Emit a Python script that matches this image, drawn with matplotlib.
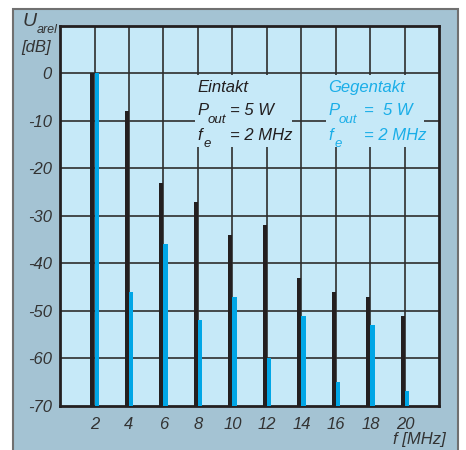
import matplotlib
matplotlib.use("Agg")
import matplotlib.pyplot as plt
from matplotlib.patches import Rectangle

plt.rcParams['font.family'] = ['Liberation Sans', 'DejaVu Sans']
plt.rcParams['font.style'] = 'italic'
plt.rcParams['axes.unicode_minus'] = False

# frequencies [MHz] and relative levels [dB]
freqs = [2, 4, 6, 8, 10, 12, 14, 16, 18, 20]
eintakt = [0, -8, -23, -27, -34, -32, -43, -46, -47, -51]
gegentakt = [0, -46, -36, -52, -47, -60, -51, -65, -53, -67]
yticks = [0, -10, -20, -30, -40, -50, -60, -70]

black = '#231f20'
cyan = '#00a6e6'
plot_bg = '#c6e9f8'
frame_bg = '#a4c3d3'
grid_col = '#2e2e2e'
txt_col = '#333333'

fig = plt.figure(figsize=(4.66, 4.5), dpi=100)
fig.patch.set_facecolor('white')

# outer panel
fig.patches.append(Rectangle((12.5 / 466, -0.05), (458 - 12.5) / 466, 1.05 - 8.7 / 450,
                             transform=fig.transFigure, facecolor=frame_bg,
                             edgecolor='#707070', linewidth=1.5, zorder=0))

ax = fig.add_axes([60 / 466, 1 - 405.7 / 450, 379.5 / 466, (405.7 - 26) / 450])
ax.set_zorder(2)
ax.set_facecolor(plot_bg)
ax.set_xlim(0, 22)
ax.set_ylim(-70, 10)

# grid
for f in freqs:
    ax.axvline(f, color=grid_col, linewidth=1.2, zorder=1)
for y in yticks[:-1]:
    ax.axhline(y, color=grid_col, linewidth=1.2, zorder=1)

# bars: black just left of the gridline, cyan just right
w = 0.24
ax.bar([f - w for f in freqs], [v + 70 for v in eintakt], bottom=-70, width=w,
       align='edge', color=black, zorder=3, linewidth=0)
ax.bar(freqs, [v + 70 for v in gegentakt], bottom=-70, width=w, align='edge',
       color=cyan, zorder=3, linewidth=0)

# text panels hiding the grid
ax.add_patch(Rectangle((7.83, -15.5), 5.6, 15.2, facecolor=plot_bg, edgecolor='none', zorder=2))
ax.add_patch(Rectangle((15.4, -15.5), 5.7, 15.2, facecolor=plot_bg, edgecolor='none', zorder=2))

fs = 12
sub = 9.5
def block(x0, xeq, title, pout, fe, col):
    ax.text(x0, -3.95, title, fontsize=fs, color=col, zorder=4)
    ax.text(x0, -8.8, 'P', fontsize=fs, color=col, zorder=4)
    ax.text(x0 + 0.6, -10.5, 'out', fontsize=sub, color=col, zorder=4)
    ax.text(xeq, -8.8, pout, fontsize=fs, color=col, zorder=4)
    ax.text(x0, -14.0, 'f', fontsize=fs, color=col, zorder=4)
    ax.text(x0 + 0.35, -15.4, 'e', fontsize=sub, color=col, zorder=4)
    ax.text(xeq, -14.0, fe, fontsize=fs, color=col, zorder=4)

block(7.95, 9.85, 'Eintakt', '= 5 W', '= 2 MHz', black)
block(15.55, 17.6, 'Gegentakt', '=  5 W', '= 2 MHz', '#1aaee8')

ax.set_xticks(freqs)
ax.set_yticks(yticks)
ax.tick_params(length=0, labelsize=fs, colors=txt_col)
ax.tick_params(axis='y', pad=6)
ax.tick_params(axis='x', pad=8)
for s in ax.spines.values():
    s.set_color(black)
    s.set_linewidth(2)

fig.text(23 / 466, 1 - 26 / 450, 'U', fontsize=14, color=txt_col, va='baseline', zorder=5)
fig.text(37 / 466, 1 - 33 / 450, 'arel', fontsize=9, color=txt_col, va='baseline', zorder=5)
fig.text(21 / 466, 1 - 52 / 450, '[dB]', fontsize=fs, color=txt_col, va='baseline', zorder=5)
fig.text(446 / 466, 1 - 444 / 450, 'f [MHz]', fontsize=fs, color=txt_col, ha='right',
         va='baseline', zorder=5)

fig.savefig('out.png', dpi=100)
